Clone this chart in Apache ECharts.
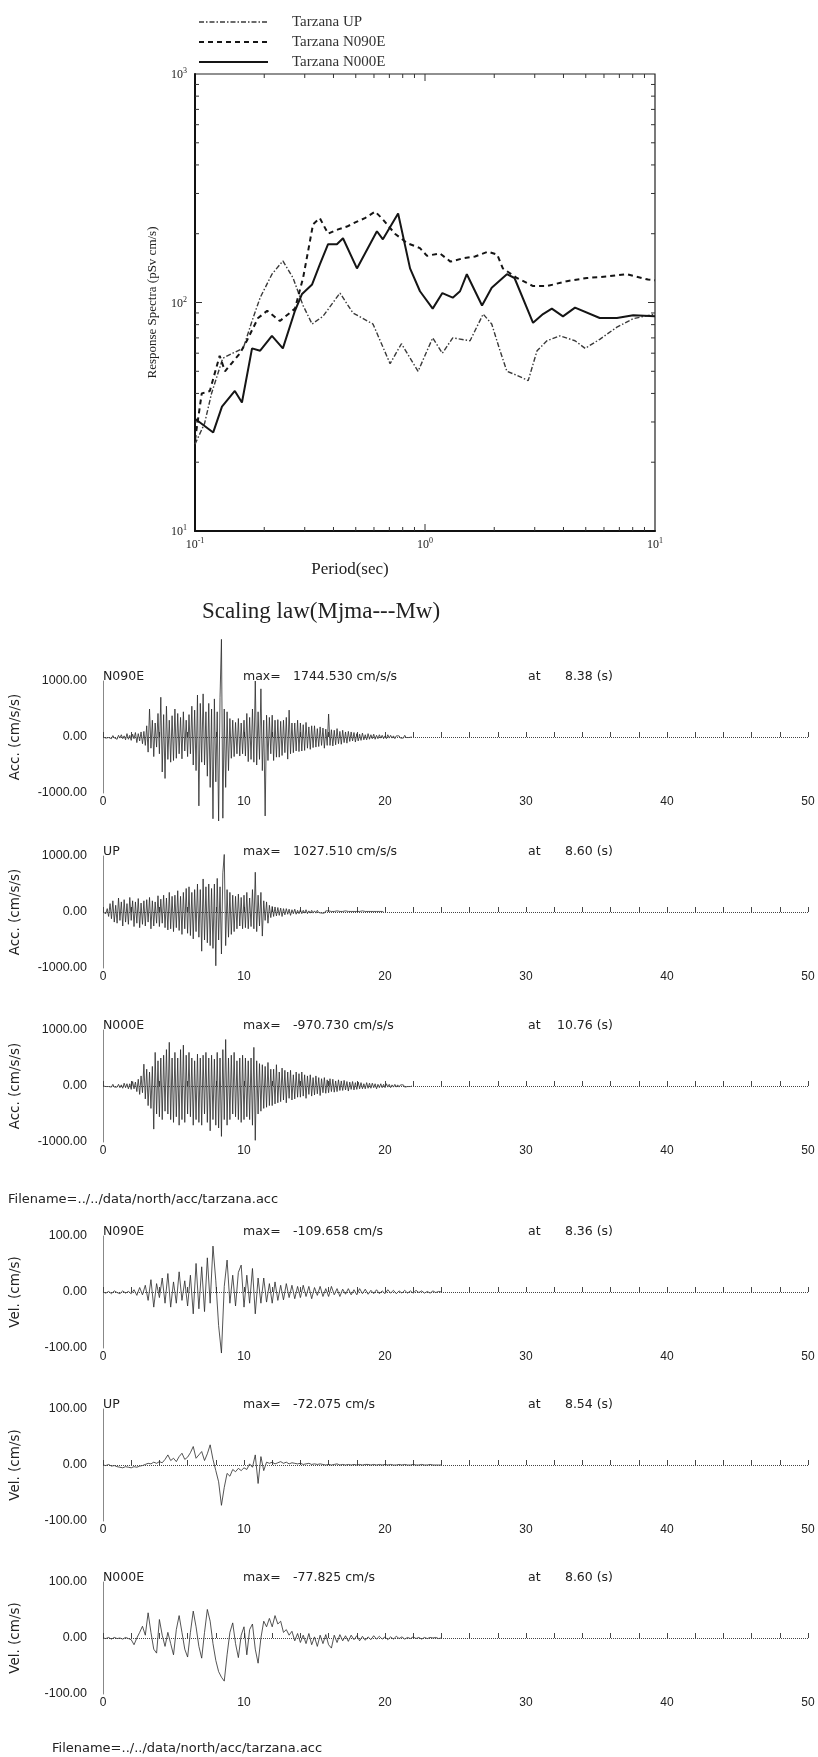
<!DOCTYPE html>
<html><head><meta charset="utf-8">
<script src="https://cdn.jsdelivr.net/npm/echarts/dist/echarts.min.js"></script>
<style>html,body{margin:0;padding:0;background:#fff}#c{width:818px;height:1757px}</style>
</head><body><div id="c"></div>
<script>
// ---------------- Response spectra data (period sec, pSv cm/s) ----------------
const periodsUP = [0.100,0.110,0.118,0.132,0.146,0.162,0.177,0.192,0.216,0.241,0.267,0.295,0.323,0.360,0.427,0.486,0.594,0.705,0.790,0.933,1.08,1.19,1.32,1.57,1.79,1.95,2.12,2.27,2.51,2.81,3.07,3.39,3.86,4.49,4.97,5.75,6.83,8.04,10.0];
const saUP = [24,29.5,40,57,60,63,83,105,133,152,128,97,80.5,87,110,90,80.5,54,66,50,70,60,70,68,89,80.5,61.5,50,48,45.5,61.5,68,71.5,68,63,69,78,85,89];
const periodsN090E = [0.100,0.107,0.116,0.128,0.135,0.157,0.168,0.188,0.206,0.234,0.272,0.295,0.310,0.326,0.349,0.379,0.419,0.458,0.506,0.548,0.607,0.656,0.740,0.836,0.951,1.02,1.16,1.29,1.46,1.65,1.88,2.06,2.18,2.51,2.95,3.39,4.14,5.06,6.18,7.55,9.33,10.0];
const saN090E = [25,40,41,58.5,50,60,68,85.5,92,83,94,128,167,220,234,200,209,215,226,234,250,231,200,182,173,160,164,151,156,159,167,162,141,128,118,118,124,128,130,133,126,125];
const periodsN000E = [0.100,0.120,0.131,0.149,0.160,0.177,0.192,0.216,0.241,0.272,0.292,0.323,0.349,0.379,0.414,0.440,0.506,0.618,0.656,0.764,0.861,0.951,1.08,1.19,1.32,1.42,1.52,1.77,1.95,2.27,2.45,2.95,3.26,3.56,3.98,4.49,5.75,6.83,8.04,10.0];
const saN000E = [31,27,35,41,36.5,63,61.5,71.5,63,92,109,120,147,180,180,191,141,205,189,245,141,112,94,110,105,112,133,97,116,133,128,81.5,89,94,87,95,85.5,85.5,88,87];
const legendNames = ['Tarzana UP','Tarzana N090E','Tarzana N000E'];
const xMinorTicks = [0.2,0.3,0.4,0.5,0.6,0.7,0.8,0.9,2,3,4,5,6,7,8,9];
const yMinorTicks = [20,30,40,50,60,70,80,90,200,300,400,500,600,700,800,900];
const xMajorTicks = [1];
const yMajorTicks = [100];

// ---------------- Time histories ----------------
const ACC_DT = 0.1;   // s
const VEL_DT = 0.2;   // s
const accN090E = [
0,10,-20,15,-10,20,-30,25,-15,10,
-40,30,-20,40,-30,20,-50,60,-40,30,
-60,50,-30,80,-100,60,-70,90,-120,100,
-150,200,-270,500,-200,300,-350,250,-180,420,
-300,710,-625,400,-740,550,-400,300,-450,380,
-420,500,-380,420,-300,350,-390,450,-250,300,
-350,400,-300,550,-500,480,-600,750,-1230,600,
-450,770,-500,450,-700,600,-900,500,-1460,680,
-800,450,-1500,700,1744,-1450,500,-900,450,-600,
330,-380,300,-350,260,-300,330,-340,250,-300,
300,-340,420,-440,350,-400,500,-450,1000,-500,
450,-400,860,-600,300,-1410,390,-420,350,-300,
390,-420,300,-360,310,-360,280,-330,300,-280,
350,-395,480,-300,250,-280,250,-250,300,-260,
250,-250,220,-240,260,-200,180,-220,200,-190,
200,-180,150,-170,180,-150,160,-200,140,-150,
410,-150,130,-160,120,-140,150,-120,100,-130,
120,-100,90,-110,100,-80,90,-70,80,-90,
60,-70,50,-60,70,-50,40,-50,60,-40,
40,-30,50,-40,30,-30,40,-20,30,-30,
20,-30,40,-20,30,-20,20,-30,20,-10,
20,-20,10,-20,30,-10,20,-10,10,0];
const accUP = [
0,20,-30,60,-80,150,-120,200,-180,120,
-200,250,-150,180,-250,220,-180,150,-220,260,
-150,200,-260,180,-200,240,-280,160,-220,200,
-250,220,-180,260,-300,200,-250,180,-200,290,
-260,230,-200,300,-280,250,-320,350,-300,280,
-350,300,-280,380,-330,280,-400,350,-300,420,
-380,450,-420,350,-480,400,-350,500,-450,400,
-700,590,-500,450,-550,500,-600,420,-650,500,
-960,600,-500,450,-750,700,1027,-600,400,-450,
350,-400,300,-350,280,-300,320,-250,260,-300,
300,-280,350,-300,250,-260,400,-300,710,-350,
300,-250,350,-430,200,-150,180,-200,120,-100,
100,-80,90,-70,80,-60,70,-80,60,-50,
60,-40,50,-60,40,-30,50,-40,30,-30,
40,-30,30,-20,40,-30,20,-20,30,-20,
20,-20,30,-10,20,-20,10,-20,20,-10,
20,-10,10,-20,10,-10,20,-10,10,-10,
10,-10,20,-10,10,-20,10,-10,10,-10,
10,-10,10,-10,20,-10,10,-10,10,-10,
10,-10,10,-10,10,-10,10,-10,10,0];
const accN000E = [
0,10,-10,20,-10,10,-20,30,-20,10,
-20,30,-30,20,-40,50,-30,40,-50,40,
-60,80,-50,70,-100,120,-150,180,-120,390,
-230,300,-350,250,-400,350,-770,600,-500,450,
-550,500,-600,550,-450,650,-500,780,-600,500,
-650,600,-550,500,-700,650,-600,730,-650,550,
-500,600,-550,500,-700,450,-600,570,-650,500,
-700,550,-500,600,-650,500,-800,550,-600,480,
-700,600,-750,500,-900,650,-600,830,-700,500,
-600,550,-500,600,-550,450,-600,500,-650,550,
-600,500,-550,450,-600,500,-700,690,-970,450,
-500,400,-450,380,-400,350,-380,420,-350,300,
-350,300,-320,380,-300,250,-280,320,-250,280,
-300,250,-220,280,-250,200,-230,250,-200,220,
-200,250,-180,200,-220,180,-150,200,-180,150,
-160,180,-140,150,-170,130,-120,150,-130,110,
-120,130,-100,120,-110,90,-100,110,-80,90,
-80,100,-70,80,-90,70,-60,80,-70,60,
-60,70,-50,60,-50,40,-50,60,-40,50,
-40,50,-30,40,-50,30,-30,40,-30,30,
-30,40,-20,30,-30,20,-20,30,-20,20,
-20,20,-10,20,-20,10,-10,20,-10,0];
const velN090E = [
0,-2,1,-3,2,-1,-3,2,-2,1,
-3,4,-6,8,-5,12,-15,22,-27,15,
-10,25,-20,33,-27,18,-20,36,-15,20,
-25,30,-39,51,-30,45,-35,61,-20,82,
20,-60,-109,10,57,-20,30,-25,35,48,
-27,30,-20,42,-39,25,-20,25,-18,15,
-20,18,-15,12,-14,15,-10,12,-12,10,
-10,12,-8,10,-12,8,-6,10,-8,6,
-8,10,-5,6,-8,5,-4,6,-5,4,
-5,6,-3,5,-4,3,-3,4,-3,2,
-3,4,-2,3,-3,2,-2,3,-2,2,
-2,3,-1,2,-2,1,-2,2,-1,1,
0];
const velUP = [
0,-1,1,-2,-1,-3,-4,-5,-3,-4,
-5,-3,-4,-2,-1,1,3,2,5,3,
6,4,10,18,8,12,6,15,21,10,
14,22,33,12,18,24,8,20,36,10,
-10,-30,-72,-40,-15,-20,-8,-12,-6,-10,
-5,-8,2,-4,18,-33,15,-10,5,3,
5,2,4,6,3,5,2,4,3,2,
3,1,2,3,1,2,1,2,1,0,
1,0,1,2,0,1,0,1,0,1,
0,1,0,1,1,0,1,0,1,0,
1,0,1,0,0,1,0,1,0,0,
1,0,0,1,0,0,1,0,0,0,
0];
const velN000E = [
0,-1,1,-2,1,-1,0,-2,1,-1,
-3,-12,0,10,21,5,45,10,-20,-27,
33,5,-15,10,-10,-30,15,40,10,-20,
-34,10,48,20,-15,-36,10,51,30,-10,
-40,-60,-70,-77,-30,10,27,-10,-35,5,
20,-30,15,25,-20,-45,0,30,20,35,
20,40,25,30,10,15,5,12,-5,8,
-8,5,-10,8,-12,2,-15,5,-10,6,
-12,-18,5,-8,6,-5,4,-6,5,-3,
4,-5,3,-4,2,-3,4,-2,3,-2,
2,-3,2,-2,3,-1,2,-2,1,-1,
2,-1,1,-2,1,-1,1,0,1,-1,
0];
const panelTexts = [
  {comp:'N090E', max:'1744.530 cm/s/s', at:'8.38 (s)', unit:'Acc. (cm/s/s)'},
  {comp:'UP',    max:'1027.510 cm/s/s', at:'8.60 (s)', unit:'Acc. (cm/s/s)'},
  {comp:'N000E', max:'-970.730 cm/s/s', at:'10.76 (s)', unit:'Acc. (cm/s/s)'},
  {comp:'N090E', max:'-109.658 cm/s',   at:'8.36 (s)', unit:'Vel. (cm/s)'},
  {comp:'UP',    max:'-72.075 cm/s',    at:'8.54 (s)', unit:'Vel. (cm/s)'},
  {comp:'N000E', max:'-77.825 cm/s',    at:'8.60 (s)', unit:'Vel. (cm/s)'}
];
const accLimit = 1000, velLimit = 100;
const timeMax = 50;
const fileName = 'Filename=../../data/north/acc/tarzana.acc';

// ---------------- Chart ----------------
const SERIF = "'Liberation Serif','Times New Roman',serif";
const SANS = "'Liberation Sans',Arial,sans-serif";
const WIDE = "'DejaVu Sans',Verdana,sans-serif";
const chart = echarts.init(document.getElementById('c'));

const logFmt = v => '{b|10}{s|' + Math.round(Math.log10(v)) + '}';
const logRich = {
  b: {fontFamily: SERIF, fontSize: 12, color: '#222', verticalAlign: 'bottom'},
  s: {fontFamily: SERIF, fontSize: 8, color: '#222', verticalAlign: 'bottom', padding: [0, 0, 6, 0]}
};

const grids = [{left: 195, top: 74, width: 460, height: 457, show: true, borderColor: '#222', borderWidth: 1.2, backgroundColor: 'transparent'}];
const xAxes = [{gridIndex: 0, type: 'log', logBase: 10, min: 0.1, max: 10,
  axisLine: {show: true, lineStyle: {color: '#111', width: 2}}, axisTick: {show: false}, splitLine: {show: false},
  axisLabel: {formatter: logFmt, rich: logRich, margin: 6}}];
const yAxes = [{gridIndex: 0, type: 'log', logBase: 10, min: 10, max: 1000,
  axisLine: {show: true, lineStyle: {color: '#111', width: 2}}, axisTick: {show: false}, splitLine: {show: false},
  axisLabel: {formatter: logFmt, rich: logRich, margin: 8},
  name: 'Response Spectra (pSv cm/s)', nameLocation: 'middle', nameGap: 36,
  nameTextStyle: {fontFamily: SERIF, fontSize: 13, color: '#222'}}];

const specStyles = [
  {color: '#3a3a3a', width: 1.4, dash: [5, 2, 1.5, 2]},
  {color: '#151515', width: 2, dash: [5, 4]},
  {color: '#151515', width: 2, dash: null}
];
const pair = (xs, ys) => xs.map((x, i) => [x, ys[i]]);
const specData = [pair(periodsUP, saUP), pair(periodsN090E, saN090E), pair(periodsN000E, saN000E)];
const series = specData.map((d, k) => ({
  name: legendNames[k], type: 'line', xAxisIndex: 0, yAxisIndex: 0, data: d, symbol: 'none', showSymbol: false,
  lineStyle: {color: specStyles[k].color, width: specStyles[k].width, type: specStyles[k].dash || 'solid'}
}));

const tickData = []
  .concat(xMinorTicks.map(v => [v, 10, 0]))
  .concat(xMajorTicks.map(v => [v, 10, 2]))
  .concat(yMinorTicks.map(v => [0.1, v, 1]))
  .concat(yMajorTicks.map(v => [0.1, v, 3]));
series.push({type: 'custom', xAxisIndex: 0, yAxisIndex: 0, silent: true, clip: false, data: tickData,
  renderItem: (params, api) => {
    const cs = params.coordSys, kind = api.value(2);
    const st = {stroke: '#333', lineWidth: 1};
    if (kind === 0 || kind === 2) {
      const x = api.coord([api.value(0), 10])[0], L = kind === 2 ? 7 : 4;
      return {type: 'group', children: [
        {type: 'line', shape: {x1: x, y1: cs.y + cs.height, x2: x, y2: cs.y + cs.height - L}, style: st},
        {type: 'line', shape: {x1: x, y1: cs.y, x2: x, y2: cs.y + L}, style: st}]};
    }
    const y = api.coord([0.1, api.value(1)])[1], L = kind === 3 ? 7 : 4;
    return {type: 'group', children: [
      {type: 'line', shape: {x1: cs.x, y1: y, x2: cs.x + L, y2: y}, style: st},
      {type: 'line', shape: {x1: cs.x + cs.width, y1: y, x2: cs.x + cs.width - L, y2: y}, style: st}]};
  }});

const graphics = [
  {type: 'text', x: 350, y: 570, style: {text: 'Period(sec)', font: '17px ' + SERIF, fill: '#222', textAlign: 'center', textVerticalAlign: 'middle'}},
  {type: 'text', x: 321, y: 612, style: {text: 'Scaling law(Mjma---Mw)', font: '23px ' + SERIF, fill: '#222', textAlign: 'center', textVerticalAlign: 'middle'}},
  {type: 'text', x: 8, y: 1200, style: {text: fileName, font: '13px ' + WIDE, fill: '#222', textAlign: 'left', textVerticalAlign: 'middle'}},
  {type: 'text', x: 52, y: 1749, style: {text: fileName, font: '13px ' + WIDE, fill: '#222', textAlign: 'left', textVerticalAlign: 'middle'}}
];
// legend (drawn as graphics so that dash patterns show without symbols)
legendNames.forEach((nm, k) => {
  const y = 22 + k * 20, s = specStyles[k];
  graphics.push(
    {type: 'line', shape: {x1: 199, y1: y, x2: 268, y2: y}, style: {stroke: s.color, lineWidth: s.width, lineDash: s.dash || null}},
    {type: 'text', x: 292, y: y, style: {text: nm, font: '15px ' + SERIF, fill: '#333', textAlign: 'left', textVerticalAlign: 'middle'}}
  );
});

const panels = [
  {data: accN090E, dt: ACC_DT, lim: accLimit, top: 681},
  {data: accUP,    dt: ACC_DT, lim: accLimit, top: 856},
  {data: accN000E, dt: ACC_DT, lim: accLimit, top: 1030},
  {data: velN090E, dt: VEL_DT, lim: velLimit, top: 1236},
  {data: velUP,    dt: VEL_DT, lim: velLimit, top: 1409},
  {data: velN000E, dt: VEL_DT, lim: velLimit, top: 1582}
];
panels.forEach((p, k) => {
  const gi = k + 1, H = 112;
  grids.push({left: 102, top: p.top, width: 706, height: H});
  xAxes.push({gridIndex: gi, type: 'value', min: 0, max: timeMax, interval: 2,
    axisLine: {show: false}, axisTick: {show: true, inside: true, length: 5, lineStyle: {color: '#444'}},
    splitLine: {show: false},
    axisLabel: {formatter: v => (v % 10 === 0 ? String(v) : ''), fontFamily: SANS, fontSize: 12, color: '#222', margin: 3}});
  yAxes.push({gridIndex: gi, type: 'value', min: -p.lim, max: p.lim, interval: p.lim,
    axisLine: {show: true, lineStyle: {color: '#888', width: 1}}, axisTick: {show: false}, splitLine: {show: false},
    axisLabel: {formatter: v => v.toFixed(2), fontFamily: SANS, fontSize: 12.5, color: '#222', margin: 16},
    name: panelTexts[k].unit, nameLocation: 'middle', nameGap: 81,
    nameTextStyle: {fontFamily: WIDE, fontSize: 13.5, color: '#222'}});
  series.push({type: 'line', xAxisIndex: gi, yAxisIndex: gi, symbol: 'none', showSymbol: false, clip: false,
    data: p.data.map((v, i) => [+(i * p.dt).toFixed(2), v]),
    lineStyle: {color: '#2a2a2a', width: 0.8},
    markLine: {silent: true, symbol: 'none', label: {show: false}, animation: false,
      lineStyle: {type: 'dotted', color: '#444', width: 1}, data: [{yAxis: 0}]}});
  const ty = p.top - 4, f = '12.5px ' + WIDE;
  const t = panelTexts[k];
  graphics.push(
    {type: 'text', x: 103, y: ty, style: {text: t.comp, font: f, fill: '#222', textAlign: 'left', textVerticalAlign: 'middle'}},
    {type: 'text', x: 243, y: ty, style: {text: 'max=', font: f, fill: '#222', textAlign: 'left', textVerticalAlign: 'middle'}},
    {type: 'text', x: 293, y: ty, style: {text: t.max, font: f, fill: '#222', textAlign: 'left', textVerticalAlign: 'middle'}},
    {type: 'text', x: 528, y: ty, style: {text: 'at', font: f, fill: '#222', textAlign: 'left', textVerticalAlign: 'middle'}},
    {type: 'text', x: 613, y: ty, style: {text: t.at, font: f, fill: '#222', textAlign: 'right', textVerticalAlign: 'middle'}}
  );
});

chart.setOption({
  animation: false,
  backgroundColor: '#fff',
  grid: grids, xAxis: xAxes, yAxis: yAxes, series: series,
  graphic: graphics
});
</script></body></html>
